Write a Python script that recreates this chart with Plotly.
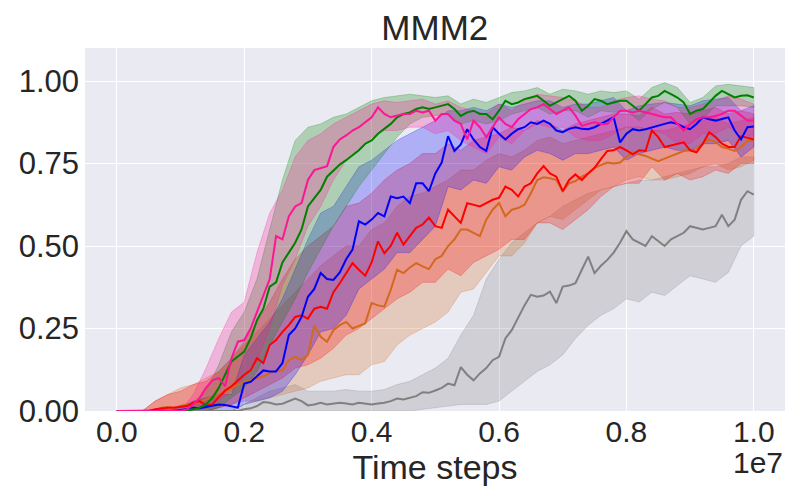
import plotly.graph_objects as go

# x in units of 1e7 time steps
steps_mean = [i / 100 for i in range(101)]
steps_band = [j / 50 for j in range(51)]

green_mean = [0, 0, 0, 0, 0, 0, 0, 0, 0, 0, 0, 0.002, 0.005, 0.01, 0.02, 0.04, 0.07, 0.11, 0.15, 0.165,
              0.18, 0.22, 0.275, 0.31, 0.377, 0.39, 0.45, 0.48, 0.51, 0.55, 0.62, 0.645, 0.67, 0.71, 0.73,
              0.747, 0.76, 0.775, 0.79, 0.81, 0.82, 0.84, 0.855, 0.87, 0.89, 0.90, 0.905, 0.915, 0.92, 0.915,
              0.92, 0.925, 0.93, 0.915, 0.894, 0.905, 0.91, 0.90, 0.90, 0.884, 0.91, 0.94, 0.93, 0.935, 0.945,
              0.95, 0.955, 0.94, 0.925, 0.935, 0.945, 0.955, 0.94, 0.91, 0.925, 0.945, 0.94, 0.93, 0.935, 0.94,
              0.94, 0.925, 0.91, 0.93, 0.95, 0.955, 0.97, 0.96, 0.95, 0.935, 0.90, 0.91, 0.915, 0.935, 0.955,
              0.97, 0.96, 0.95, 0.955, 0.957, 0.95]
pink_mean = [0, 0, 0, 0, 0, 0, 0, 0, 0, 0, 0, 0.005, 0.02, 0.04, 0.07, 0.093, 0.10, 0.075, 0.16, 0.21,
             0.215, 0.25, 0.30, 0.346, 0.40, 0.53, 0.52, 0.59, 0.62, 0.63, 0.70, 0.73, 0.737, 0.742, 0.80,
             0.823, 0.835, 0.85, 0.86, 0.875, 0.89, 0.92, 0.90, 0.89, 0.895, 0.90, 0.90, 0.91, 0.905, 0.91,
             0.88, 0.90, 0.90, 0.88, 0.87, 0.823, 0.88, 0.86, 0.83, 0.86, 0.89, 0.87, 0.86, 0.884, 0.90,
             0.915, 0.92, 0.93, 0.915, 0.90, 0.91, 0.92, 0.895, 0.864, 0.87, 0.875, 0.87, 0.87, 0.89, 0.91,
             0.91, 0.905, 0.91, 0.905, 0.90, 0.895, 0.89, 0.89, 0.87, 0.85, 0.87, 0.884, 0.89, 0.89, 0.894,
             0.90, 0.91, 0.91, 0.895, 0.88, 0.88]
blue_mean = [0, 0, 0, 0, 0, 0, 0, 0, 0, 0, 0.003, 0.005, 0.01, 0.008, 0.012, 0.015, 0.02, 0.018, 0.015, 0.01,
             0.083, 0.088, 0.105, 0.123, 0.12, 0.12, 0.145, 0.23, 0.25, 0.285, 0.346, 0.37, 0.418, 0.40, 0.397,
             0.42, 0.46, 0.489, 0.575, 0.565, 0.58, 0.60, 0.59, 0.65, 0.645, 0.65, 0.63, 0.69, 0.69, 0.666,
             0.72, 0.753, 0.833, 0.788, 0.808, 0.854, 0.823, 0.80, 0.788, 0.86, 0.84, 0.823, 0.84, 0.854, 0.86,
             0.875, 0.87, 0.88, 0.87, 0.85, 0.845, 0.855, 0.86, 0.855, 0.854, 0.86, 0.87, 0.88, 0.89, 0.814,
             0.84, 0.854, 0.85, 0.854, 0.86, 0.864, 0.87, 0.875, 0.87, 0.86, 0.854, 0.87, 0.89, 0.884, 0.88,
             0.885, 0.89, 0.85, 0.823, 0.86, 0.862]
red_mean = [0, 0, 0, 0, 0, 0, 0.005, 0.008, 0.01, 0.01, 0.012, 0.015, 0.025, 0.03, 0.017, 0.02, 0.042, 0.062,
            0.075, 0.093, 0.11, 0.123, 0.16, 0.145, 0.20, 0.215, 0.24, 0.26, 0.285, 0.29, 0.28, 0.31, 0.316,
            0.31, 0.36, 0.387, 0.418, 0.448, 0.428, 0.41, 0.45, 0.514, 0.478, 0.50, 0.54, 0.504, 0.53, 0.555,
            0.565, 0.586, 0.56, 0.555, 0.61, 0.59, 0.57, 0.63, 0.625, 0.62, 0.63, 0.64, 0.646, 0.68, 0.67,
            0.65, 0.68, 0.69, 0.72, 0.742, 0.72, 0.71, 0.666, 0.70, 0.717, 0.70, 0.72, 0.737, 0.763, 0.788,
            0.79, 0.80, 0.79, 0.778, 0.79, 0.788, 0.85, 0.83, 0.80, 0.805, 0.81, 0.814, 0.79, 0.784, 0.81,
            0.845, 0.83, 0.81, 0.80, 0.80, 0.833, 0.828, 0.823]
orange_mean = [0, 0, 0, 0, 0, 0, 0.003, 0.01, 0.012, 0.01, 0.015, 0.02, 0.018, 0.027, 0.035, 0.042, 0.05,
               0.057, 0.07, 0.078, 0.088, 0.093, 0.098, 0.105, 0.114, 0.123, 0.123, 0.154, 0.164, 0.154, 0.17,
               0.26, 0.225, 0.21, 0.245, 0.26, 0.27, 0.25, 0.258, 0.266, 0.327, 0.32, 0.316, 0.367, 0.428,
               0.418, 0.435, 0.448, 0.438, 0.43, 0.46, 0.47, 0.50, 0.52, 0.55, 0.55, 0.54, 0.53, 0.58, 0.61,
               0.63, 0.59, 0.61, 0.615, 0.625, 0.66, 0.70, 0.708, 0.705, 0.70, 0.666, 0.69, 0.697, 0.71, 0.72,
               0.737, 0.745, 0.753, 0.75, 0.753, 0.77, 0.784, 0.778, 0.773, 0.765, 0.757, 0.765, 0.773, 0.78,
               0.788, 0.79, 0.793, 0.81, 0.823, 0.815, 0.80, 0.795, 0.788, 0.80, 0.818, 0.82]
gray_mean = [0, 0, 0, 0, 0, 0, 0, 0, 0, 0, 0, 0, 0, 0, 0, 0, 0, 0, 0, 0,
             0.005, 0.008, 0.015, 0.027, 0.025, 0.02, 0.022, 0.03, 0.038, 0.03, 0.017, 0.02, 0.025, 0.02,
             0.022, 0.025, 0.023, 0.02, 0.025, 0.023, 0.02, 0.023, 0.025, 0.03, 0.038, 0.035, 0.04, 0.045,
             0.057, 0.055, 0.062, 0.07, 0.083, 0.078, 0.133, 0.11, 0.093, 0.114, 0.13, 0.154, 0.164, 0.22,
             0.245, 0.285, 0.32, 0.352, 0.346, 0.35, 0.362, 0.327, 0.377, 0.38, 0.387, 0.428, 0.468, 0.418,
             0.44, 0.458, 0.48, 0.51, 0.545, 0.52, 0.51, 0.50, 0.53, 0.515, 0.50, 0.52, 0.53, 0.54, 0.56,
             0.555, 0.55, 0.555, 0.56, 0.595, 0.56, 0.58, 0.64, 0.666, 0.656]

green_lo = [0, 0, 0, 0, 0, 0, 0, 0, 0.01, 0.04, 0.07, 0.12, 0.20, 0.27, 0.34, 0.42, 0.49, 0.56, 0.62, 0.68,
            0.73, 0.78, 0.83, 0.87, 0.89, 0.895, 0.90, 0.87, 0.88, 0.87, 0.88, 0.90, 0.91, 0.92, 0.90, 0.91,
            0.91, 0.89, 0.91, 0.905, 0.91, 0.88, 0.915, 0.935, 0.92, 0.87, 0.885, 0.925, 0.925, 0.925, 0.92]
green_up = [0, 0, 0, 0, 0, 0, 0.015, 0.06, 0.14, 0.24, 0.30, 0.40, 0.55, 0.70, 0.82, 0.86, 0.87, 0.89, 0.90,
            0.92, 0.94, 0.95, 0.955, 0.96, 0.955, 0.95, 0.955, 0.93, 0.945, 0.935, 0.95, 0.965, 0.97, 0.98,
            0.96, 0.975, 0.97, 0.96, 0.97, 0.965, 0.97, 0.945, 0.98, 0.995, 0.98, 0.935, 0.95, 0.985, 0.99,
            0.985, 0.98]
pink_lo = [0, 0, 0, 0, 0, 0, 0, 0.01, 0.03, 0.06, 0.10, 0.15, 0.25, 0.38, 0.46, 0.56, 0.62, 0.70, 0.76, 0.79,
           0.83, 0.85, 0.85, 0.86, 0.86, 0.84, 0.85, 0.82, 0.80, 0.78, 0.83, 0.81, 0.85, 0.87, 0.86, 0.86,
           0.83, 0.82, 0.82, 0.84, 0.86, 0.86, 0.85, 0.84, 0.81, 0.81, 0.84, 0.84, 0.86, 0.84, 0.83]
pink_up = [0, 0, 0, 0, 0, 0, 0.05, 0.13, 0.22, 0.30, 0.33, 0.48, 0.60, 0.67, 0.77, 0.82, 0.84, 0.87, 0.89,
           0.91, 0.93, 0.94, 0.935, 0.94, 0.945, 0.93, 0.94, 0.92, 0.91, 0.90, 0.93, 0.91, 0.94, 0.96, 0.955,
           0.95, 0.94, 0.92, 0.92, 0.94, 0.95, 0.955, 0.945, 0.94, 0.92, 0.92, 0.93, 0.94, 0.955, 0.945, 0.93]
blue_lo = [0, 0, 0, 0, 0, 0, 0, 0, 0, 0, 0.02, 0.03, 0.04, 0.06, 0.11, 0.17, 0.24, 0.25, 0.29, 0.37, 0.40,
           0.43, 0.48, 0.48, 0.52, 0.56, 0.68, 0.67, 0.70, 0.69, 0.74, 0.73, 0.77, 0.79, 0.78, 0.76, 0.78,
           0.78, 0.79, 0.80, 0.76, 0.78, 0.79, 0.80, 0.79, 0.79, 0.81, 0.81, 0.82, 0.77, 0.80]
blue_up = [0, 0, 0, 0, 0, 0.01, 0.03, 0.04, 0.05, 0.05, 0.17, 0.22, 0.27, 0.34, 0.43, 0.52, 0.60, 0.62, 0.68,
           0.74, 0.76, 0.79, 0.82, 0.84, 0.86, 0.88, 0.91, 0.91, 0.92, 0.91, 0.93, 0.92, 0.93, 0.94, 0.94,
           0.92, 0.93, 0.93, 0.94, 0.95, 0.91, 0.925, 0.93, 0.935, 0.93, 0.925, 0.94, 0.945, 0.95, 0.91, 0.925]
red_lo = [0, 0, 0, 0, 0, 0, 0, 0, 0.01, 0.02, 0.04, 0.06, 0.08, 0.10, 0.13, 0.14, 0.16, 0.19, 0.23, 0.25,
          0.28, 0.31, 0.34, 0.36, 0.39, 0.39, 0.43, 0.41, 0.45, 0.47, 0.49, 0.52, 0.52, 0.57, 0.57, 0.55,
          0.58, 0.61, 0.65, 0.68, 0.69, 0.69, 0.74, 0.70, 0.72, 0.70, 0.71, 0.73, 0.72, 0.75, 0.75]
red_up = [0, 0, 0, 0.03, 0.05, 0.06, 0.08, 0.09, 0.12, 0.16, 0.21, 0.27, 0.33, 0.40, 0.46, 0.50, 0.53, 0.56,
          0.62, 0.63, 0.66, 0.70, 0.73, 0.75, 0.78, 0.78, 0.81, 0.79, 0.82, 0.83, 0.84, 0.86, 0.85, 0.88,
          0.87, 0.85, 0.87, 0.88, 0.89, 0.90, 0.90, 0.895, 0.92, 0.90, 0.905, 0.90, 0.91, 0.92, 0.90, 0.91, 0.90]
orange_lo = [0, 0, 0, 0, 0, 0, 0, 0, 0.01, 0.02, 0.03, 0.03, 0.04, 0.05, 0.06, 0.07, 0.09, 0.10, 0.11, 0.11,
             0.14, 0.15, 0.20, 0.23, 0.25, 0.27, 0.30, 0.36, 0.37, 0.42, 0.47, 0.47, 0.51, 0.57, 0.59, 0.58,
             0.61, 0.64, 0.67, 0.68, 0.70, 0.71, 0.70, 0.70, 0.71, 0.72, 0.74, 0.75, 0.73, 0.74, 0.76]
orange_up = [0, 0, 0, 0.03, 0.05, 0.07, 0.08, 0.10, 0.12, 0.16, 0.20, 0.24, 0.28, 0.32, 0.36, 0.40, 0.44,
             0.47, 0.50, 0.50, 0.55, 0.57, 0.62, 0.65, 0.66, 0.68, 0.70, 0.73, 0.73, 0.76, 0.78, 0.77, 0.79,
             0.82, 0.83, 0.81, 0.82, 0.83, 0.84, 0.85, 0.86, 0.86, 0.85, 0.85, 0.86, 0.87, 0.88, 0.89, 0.87,
             0.88, 0.89]
gray_lo = [0, 0, 0, 0, 0, 0, 0, 0, 0, 0, 0, 0, 0, 0, 0, 0, 0, 0, 0, 0, 0, 0, 0, 0, 0.005, 0.01, 0.015, 0.02,
           0.02, 0.02, 0.03, 0.06, 0.09, 0.12, 0.14, 0.17, 0.22, 0.26, 0.29, 0.31, 0.34, 0.33, 0.36, 0.35,
           0.38, 0.41, 0.40, 0.39, 0.42, 0.50, 0.53]
gray_up = [0, 0, 0, 0, 0, 0, 0, 0, 0, 0, 0.02, 0.04, 0.06, 0.07, 0.08, 0.06, 0.06, 0.06, 0.065, 0.06, 0.06,
           0.065, 0.08, 0.09, 0.11, 0.13, 0.16, 0.23, 0.29, 0.40, 0.46, 0.51, 0.54, 0.57, 0.59, 0.62, 0.64,
           0.66, 0.67, 0.68, 0.69, 0.70, 0.70, 0.71, 0.72, 0.73, 0.74, 0.74, 0.75, 0.77, 0.77]

series = [
    ("gray", (128, 128, 128), gray_mean, gray_lo, gray_up),
    ("chocolate", (210, 105, 30), orange_mean, orange_lo, orange_up),
    ("red", (255, 0, 0), red_mean, red_lo, red_up),
    ("blue", (0, 0, 255), blue_mean, blue_lo, blue_up),
    ("green", (0, 128, 0), green_mean, green_lo, green_up),
    ("deeppink", (255, 20, 147), pink_mean, pink_lo, pink_up),
]

fig = go.Figure()
for name, (r, g, b), mean, lo, up in series:
    fill_rgba = f"rgba({r},{g},{b},0.25)"
    fig.add_trace(go.Scatter(
        x=steps_band + steps_band[::-1], y=up + lo[::-1],
        fill="toself", fillcolor=fill_rgba, mode="lines",
        line=dict(width=1, color=fill_rgba), hoverinfo="skip", showlegend=False))
for name, (r, g, b), mean, lo, up in series:
    fig.add_trace(go.Scatter(
        x=steps_mean, y=mean, mode="lines",
        line=dict(width=2, color=f"rgb({r},{g},{b})"), name=name, showlegend=False))

font_family = "Liberation Sans, Arial, sans-serif"
text_color = "#262626"

fig.update_layout(
    width=800, height=500,
    margin=dict(l=85, r=15, t=48, b=89),
    paper_bgcolor="white", plot_bgcolor="#EAEAF2",
    font=dict(family=font_family, color=text_color, size=30),
    title=dict(text="MMM2", x=0.5435, xanchor="center", y=1, yref="paper", yanchor="bottom",
               pad=dict(b=8), font=dict(size=35, color=text_color)),
    showlegend=False,
)
fig.update_xaxes(
    range=[-0.05, 1.049], tickvals=[0, 0.2, 0.4, 0.6, 0.8, 1.0], tickformat=".1f",
    showgrid=True, gridcolor="white", gridwidth=1.3, zeroline=False, showline=False,
    ticks="", tickfont=dict(size=30), ticklabelstandoff=0,
    title=dict(text="Time steps", font=dict(size=34), standoff=4),
)
fig.update_yaxes(
    range=[0, 1.1], tickvals=[0, 0.25, 0.5, 0.75, 1.0], tickformat=".2f",
    showgrid=True, gridcolor="white", gridwidth=1.3, zeroline=False, showline=False,
    ticks="", tickfont=dict(size=31), ticklabelstandoff=5,
)
fig.add_annotation(text="1e7", xref="paper", yref="paper", x=1.0, y=-0.09,
                   xanchor="right", yanchor="top", showarrow=False,
                   font=dict(size=30, color=text_color, family=font_family))

fig.write_html("out.html")
